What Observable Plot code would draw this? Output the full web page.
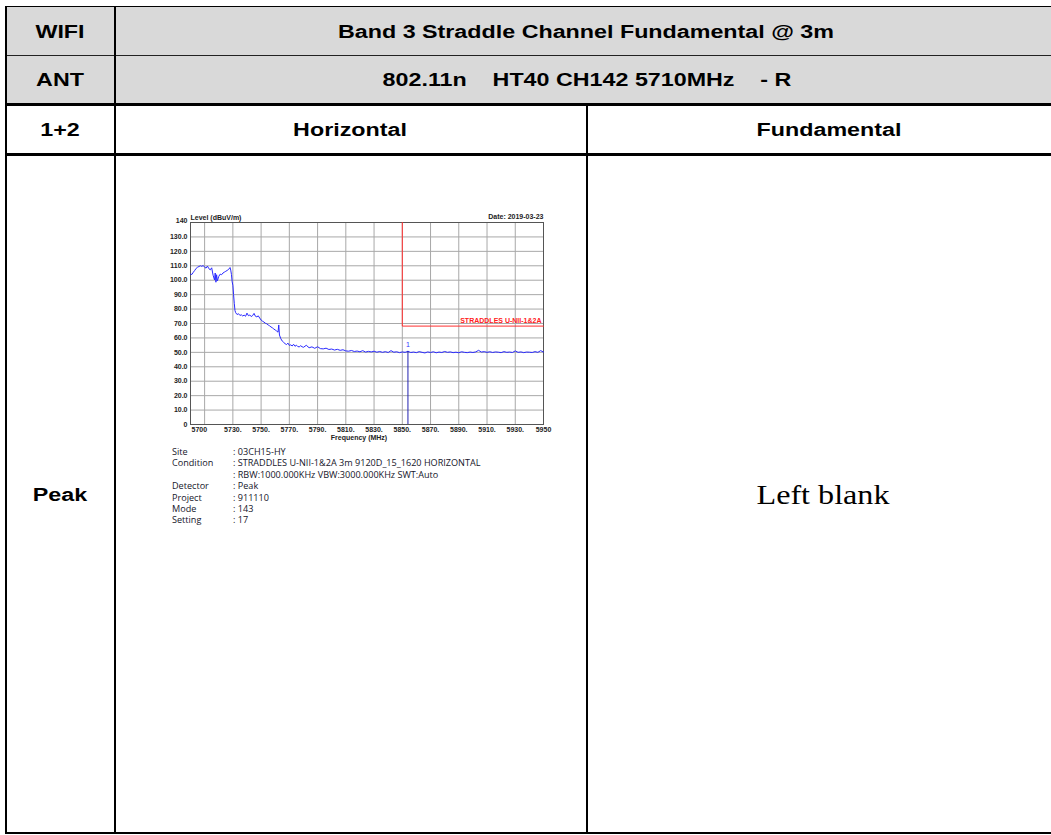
<!DOCTYPE html>
<html>
<head>
<meta charset="utf-8">
<script src="https://cdn.jsdelivr.net/npm/d3@7"></script>
<script src="https://cdn.jsdelivr.net/npm/@observablehq/plot@0.6"></script>
<style>
  html, body { margin: 0; padding: 0; background: #fff; }
  #page { position: relative; width: 1051px; height: 835px; overflow: hidden; font-family: "Liberation Sans", Arial, sans-serif; }
  .abs { position: absolute; }
  .hline { position: absolute; background: #000; }
  .cell { position: absolute; font-weight: bold; font-size: 17.5px; color: #000; text-align: center; white-space: pre; transform: translate(-50%, -50%) scaleX(1.33); }
  #chart { position: absolute; left: 150px; top: 200px; }
  .info { position: absolute; font-family: "Open Sans", "DejaVu Sans", sans-serif; font-size: 9.1px; color: #15152a; white-space: pre; }
</style>
</head>
<body>
<div id="page">
  <div class="abs" style="left:5px;top:6px;width:1046px;height:98px;background:#d9d9d9;"></div>
  <div class="hline" style="left:5px;top:6px;width:1046px;height:1px;"></div>
  <div class="hline" style="left:5px;top:55px;width:1046px;height:1px;background:#222;"></div>
  <div class="hline" style="left:5px;top:103px;width:1046px;height:3px;"></div>
  <div class="hline" style="left:5px;top:153px;width:1046px;height:3px;"></div>
  <div class="hline" style="left:5px;top:832px;width:1046px;height:2px;"></div>
  <div class="hline" style="left:5px;top:6px;width:2px;height:828px;"></div>
  <div class="hline" style="left:114px;top:6px;width:2px;height:828px;"></div>
  <div class="hline" style="left:586px;top:104px;width:2px;height:730px;"></div>

  <div class="cell" style="left:60px;top:32px;">WIFI</div>
  <div class="cell" style="left:586px;top:32px;">Band 3 Straddle Channel Fundamental @ 3m</div>
  <div class="cell" style="left:60px;top:80px;">ANT</div>
  <div class="cell" style="left:587px;top:80px;">802.11n    HT40 CH142 5710MHz    - R</div>
  <div class="cell" style="left:60px;top:130px;">1+2</div>
  <div class="cell" style="left:350px;top:130px;">Horizontal</div>
  <div class="cell" style="left:829px;top:130px;">Fundamental</div>
  <div class="cell" style="left:60px;top:495px;">Peak</div>
  <div class="cell" style="left:823px;top:495px;font-family:'Liberation Serif','Times New Roman',serif;font-weight:normal;font-size:27px;transform:translate(-50%,-50%) scaleX(1.19);">Left blank</div>

  <div id="chart"></div>
  <div id="info"></div>
</div>
<script>
// ---- data ----
const traceFreq = [5700,5701,5702,5703,5704,5705,5706,5707,5708,5709,5710,5711,5712,5713,5714,5715,5716,5717,5717.5,5718,5718.5,5719,5720,5721,5722,5723,5724,5725,5726,5727,5728,5728.5,5729,5729.5,5730,5730.5,5731,5731.5,5732,5733,5734,5735,5736,5737,5738,5739,5740,5741,5742,5743,5744,5745,5746,5747,5748,5749,5750,5751,5752,5753,5754,5755,5756,5757,5758,5759,5760,5761,5762,5762.5,5763,5764,5765,5766,5767,5768,5769,5770,5771,5772,5773,5774,5775,5776,5777,5778,5779,5780,5782,5784,5786,5788,5790,5792,5794,5796,5798,5800,5802,5804,5806,5808,5810,5812,5814,5816,5818,5820,5822,5824,5826,5828,5830,5832,5834,5836,5838,5840,5842,5844,5846,5848,5850,5852,5854,5856,5858,5860,5862,5864,5866,5868,5870,5872,5874,5876,5878,5880,5882,5884,5886,5888,5890,5892,5894,5896,5898,5900,5902,5904,5906,5908,5910,5912,5914,5916,5918,5920,5922,5924,5926,5928,5930,5932,5934,5936,5938,5940,5942,5944,5946,5948,5950];
const traceLevel = [104.2,104.0,105.5,106.8,108.2,109.0,109.5,110.0,109.6,110.2,109.0,108.4,109.8,108.0,107.2,108.6,103.5,100.2,105.0,98.6,103.8,99.5,102.6,104.2,103.8,105.0,105.6,106.2,106.8,107.5,108.8,107.0,104.0,99.0,96.5,90.0,84.0,79.0,77.5,76.2,76.8,75.6,76.0,75.2,75.8,75.0,77.2,75.4,75.9,74.8,75.5,77.0,75.0,74.6,75.3,73.8,72.4,71.6,71.0,70.2,69.8,69.0,68.4,67.6,67.0,66.2,65.5,64.8,64.0,69.0,62.0,59.4,57.8,56.9,56.0,55.4,56.4,54.8,55.2,54.4,55.6,54.2,55.0,54.0,53.8,54.6,53.9,53.5,54.9,53.2,53.8,52.8,53.9,52.6,52.4,52.9,52.0,52.3,51.6,52.1,51.4,51.8,51.0,50.8,51.3,50.6,50.9,50.4,51.2,50.2,50.7,50.3,50.8,50.1,50.6,50.0,50.5,49.9,51.2,50.1,50.4,49.8,50.3,50.0,50.7,49.9,50.2,49.8,50.5,50.0,49.6,50.3,49.9,50.4,49.7,50.2,49.9,50.6,50.0,50.3,49.8,50.1,49.7,50.4,50.0,49.8,50.2,49.9,50.3,51.4,50.2,50.5,50.0,50.4,49.9,50.3,50.1,49.8,50.5,50.0,50.2,49.9,51.0,50.0,50.3,49.8,50.2,50.1,49.9,50.5,50.0,51.2,50.2];

const limitFreq = [5850, 5850, 5950];
const limitLevel = [140, 68.2, 68.2];
const limitName = "STRADDLES U-NII-1&2A";

const markerFreq = [5854];
const markerLevel = [50.7];
const markerLabel = ["1"];

const gridFreq = [5710,5730,5750,5770,5790,5810,5830,5850,5870,5890,5910,5930];
const gridLevel = [10,20,30,40,50,60,70,80,90,100,110,120,130];
const xFirstTick = [5700];
const xFirstLabel = ["5700"];
const xTickValues = [5730,5750,5770,5790,5810,5830,5850,5870,5890,5910,5930,5950];
const xTickLabels = ["5730.","5750.","5770.","5790.","5810.","5830.","5850.","5870.","5890.","5910.","5930.","5950"];
const yTickValues = [0,10,20,30,40,50,60,70,80,90,100,110,120,130];
const yTickLabels = ["0","10.0","20.0","30.0","40.0","50.0","60.0","70.0","80.0","90.0","100.0","110.0","120.0","130.0"];
const yTopTick = [140];
const yTopLabel = ["140"];

const yTitle = "Level (dBuV/m)";
const xTitle = "Frequency (MHz)";
const dateText = "Date: 2019-03-23";

const infoKeys = ["Site","Condition","","Detector","Project","Mode","Setting"];
const infoValues = [": 03CH15-HY", ": STRADDLES U-NII-1&2A 3m 9120D_15_1620 HORIZONTAL", ": RBW:1000.000KHz VBW:3000.000KHz SWT:Auto", ": Peak", ": 911110", ": 143", ": 17"];

// ---- build ----
const trace = traceFreq.map((f, i) => ({f, l: traceLevel[i]}));
const limit = limitFreq.map((f, i) => ({f, l: limitLevel[i]}));
const xt = xTickValues.map((v, i) => ({v, s: xTickLabels[i]}));
const xt0 = xFirstTick.map((v, i) => ({v, s: xFirstLabel[i]}));
const yt = yTickValues.map((v, i) => ({v, s: yTickLabels[i]}));
const yt0 = yTopTick.map((v, i) => ({v, s: yTopLabel[i]}));
const mk = markerFreq.map((f, i) => ({f, l: markerLevel[i], s: markerLabel[i]}));
const ink = "#222";

const chart = Plot.plot({
  width: 420, height: 250,
  marginLeft: 40, marginRight: 27, marginTop: 22, marginBottom: 26,
  x: {domain: [5700, 5950], axis: null},
  y: {domain: [0, 140], axis: null},
  style: {fontFamily: "'Liberation Sans', Arial, sans-serif", fontSize: "7px", fontWeight: "bold", background: "transparent", overflow: "visible"},
  marks: [
    Plot.ruleX(gridFreq, {x: d => d, y1: 0, y2: 140, stroke: "#a8a8a8", strokeWidth: 1}),
    Plot.ruleY(gridLevel, {y: d => d, x1: 5700, x2: 5950, stroke: "#a8a8a8", strokeWidth: 1}),
    Plot.frame({stroke: "#555", strokeWidth: 1}),
    Plot.line(limit, {x: "f", y: "l", stroke: "#ff3030", strokeWidth: 1}),
    Plot.text([limitName], {x: 5950, y: 68.2, text: d => d, textAnchor: "end", dx: -2, dy: -5, fill: "#ff2020", fontSize: 7}),
    Plot.line(trace, {x: "f", y: "l", stroke: "#2a2aff", strokeWidth: 1}),
    Plot.ruleX(mk, {x: "f", y1: 0, y2: "l", stroke: "#2020b0", strokeWidth: 1}),
    Plot.text(mk, {x: "f", y: "l", text: "s", dy: -7, fill: "#3030ff", fontWeight: "normal", fontSize: 7}),
    Plot.text(xt, {x: "v", y: 0, text: "s", dy: 5, fill: ink, fontSize: 7}),
    Plot.text(xt0, {x: "v", y: 0, text: "s", dy: 5, dx: 1, textAnchor: "start", fill: ink, fontSize: 7}),
    Plot.text(yt, {x: 5700, y: "v", text: "s", dx: -3, textAnchor: "end", fill: ink, fontSize: 7}),
    Plot.text(yt0, {x: 5700, y: "v", text: "s", dx: -3, dy: -1.5, textAnchor: "end", fill: ink, fontSize: 7}),
    Plot.text([yTitle], {x: 5700, y: 140, text: d => d, textAnchor: "start", dy: -5, fill: ink, fontSize: 7}),
    Plot.text([dateText], {x: 5950, y: 140, text: d => d, textAnchor: "end", dy: -6, fill: ink, fontSize: 7}),
    Plot.text([xTitle], {x: 5825, y: 0, text: d => d, dy: 13, dx: -8, fill: ink, fontSize: 7})
  ]
});
document.getElementById("chart").appendChild(chart);

const info = document.getElementById("info");
infoKeys.forEach((k, i) => {
  const top = 445 + i * 11.4;
  const a = document.createElement("div");
  a.className = "info"; a.style.left = "172px"; a.style.top = top + "px"; a.textContent = k;
  const b = document.createElement("div");
  b.className = "info"; b.style.left = "233px"; b.style.top = top + "px"; b.textContent = infoValues[i];
  info.appendChild(a); info.appendChild(b);
});
</script>
</body>
</html>
